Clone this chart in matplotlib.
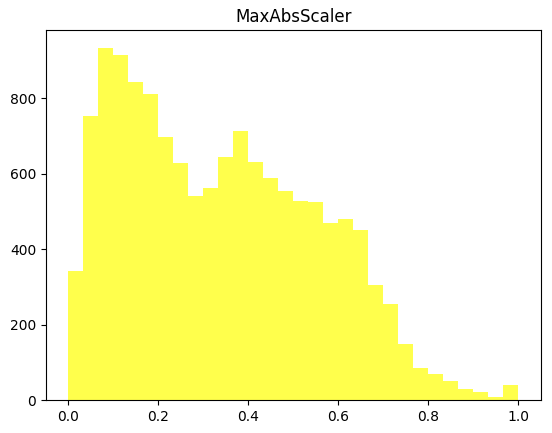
import numpy as np
import matplotlib
matplotlib.use("Agg")
import matplotlib.pyplot as plt

# contagens por bin (30 bins entre 0 e 1)
counts = [341, 754, 934, 914, 842, 810, 698, 627, 540, 563,
          645, 714, 632, 589, 555, 528, 525, 470, 481, 451,
          305, 255, 149, 85, 69, 50, 29, 21, 8, 40]
edges = np.linspace(0, 1, len(counts) + 1)

fig = plt.figure(figsize=(5.52, 4.33), dpi=100)
ax = fig.add_axes([0.0833, 0.0762, 0.8967, 0.8545])
ax.hist(edges[:-1], bins=edges, weights=counts, color='yellow', alpha=0.7)
ax.set_title('MaxAbsScaler')
fig.savefig('out.png', dpi=100)
